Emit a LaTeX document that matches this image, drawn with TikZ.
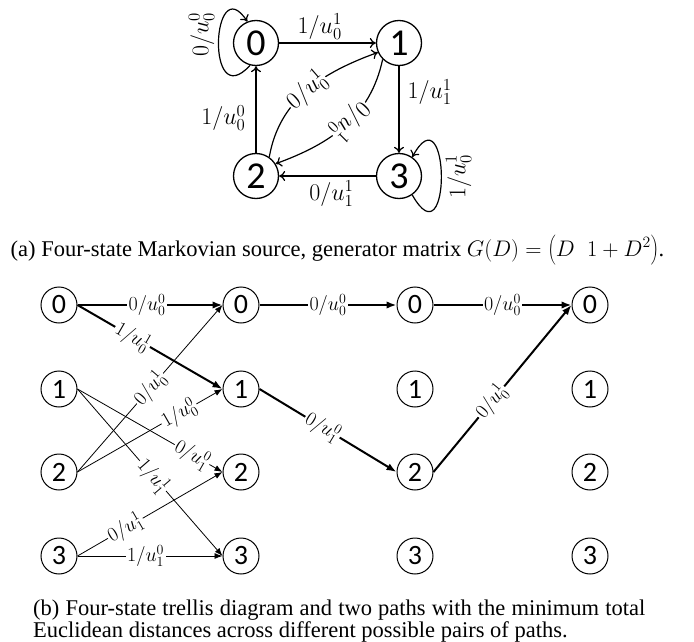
\RequirePackage{fix-cm}
\documentclass[tikz,border=0pt]{standalone}
\usepackage{fontspec}
\setmainfont{Liberation Serif}
\newfontfamily\statefont{Carlito}
\usetikzlibrary{arrows.meta, quotes}

\begin{document}
\begin{tikzpicture}[
    x=1pt, y=-1pt,
    state/.style={circle, draw, line width=1.3pt, minimum size=45pt, inner sep=0pt,
        font=\statefont\fontsize{38}{38}\selectfont},
    tstate/.style={circle, draw, line width=1pt, minimum size=36pt, inner sep=0pt,
        font=\statefont\fontsize{28}{28}\selectfont},
    loopline/.style={draw, line width=1.2pt, -{To[length=6pt,width=10pt]}},
    every edge/.style={loopline},
    every edge quotes/.style={font=\fontsize{24}{26}\selectfont, inner sep=2pt}
]

% fixed bounding box = size of the reference
\path[use as bounding box] (0,0) rectangle (694,642);

% (a) four-state source
\node[state] (n0) at (256,43) {0};
\node[state] (n1) at (399,43) {1};
\node[state] (n2) at (256,176) {2};
\node[state] (n3) at (399,176) {3};

\path (n0) edge["$1/u_0^1$" {above=1pt, pos=.42}] (n1);
\path (n1) edge["$1/u_1^1$" {right=6pt, pos=.3}] (n3);
\path (n3) edge["$0/u_1^1$" {below=2pt, pos=.46}] (n2);
\path (n2) edge["$1/u_0^0$" {left=8pt, pos=.4}] (n0);
\path (n2.55) edge[out=80, in=200, "$0/u_0^1$" {sloped, fill=white, inner sep=1pt}] (n1.204);
\path (n1.225) edge[out=258, in=20, "$0/u_0^1$" {sloped, allow upside down, fill=white, inner sep=1pt, pos=.45}] (n2.32);

\draw[loopline] (n0.255) .. controls (205,115) and (212,-32) .. (n0.112)
    node[pos=.55, rotate=90, anchor=south, inner sep=4pt, font=\fontsize{24}{26}\selectfont] {$0/u_0^0$};
\draw[loopline] (n3.-55) .. controls (452,265) and (450,88) .. (n3.55)
    node[pos=.5, rotate=90, anchor=north, inner sep=4pt, font=\fontsize{24}{26}\selectfont] {$1/u_0^1$};

\node[anchor=base, font=\fontsize{22.5}{26}\selectfont] (capa) at (337.5,256)
    {(a) Four-state Markovian source, generator matrix $G(D) = \left(\rule[-8pt]{0pt}{27pt}D\;\; 1+D^2\right)$.};

% (b) trellis
\begin{scope}[
    every edge/.style={draw, line width=0.8pt, -{Latex[length=8pt,width=6pt]}},
    every edge quotes/.style={font=\fontsize{20}{20}\selectfont, fill=white, inner sep=1.5pt},
    best path/.style={line width=2pt, -{Latex[length=10pt,width=7.5pt]}}
]
\node[tstate] (a0) at (59,305) {0};
\node[tstate] (a1) at (59,389) {1};
\node[tstate] (a2) at (59,472) {2};
\node[tstate] (a3) at (59,556) {3};
\node[tstate] (b0) at (241,305) {0};
\node[tstate] (b1) at (241,389) {1};
\node[tstate] (b2) at (241,472) {2};
\node[tstate] (b3) at (241,556) {3};
\node[tstate] (c0) at (415,305) {0};
\node[tstate] (c1) at (415,389) {1};
\node[tstate] (c2) at (415,472) {2};
\node[tstate] (c3) at (415,556) {3};
\node[tstate] (d0) at (590,305) {0};
\node[tstate] (d1) at (590,389) {1};
\node[tstate] (d2) at (590,472) {2};
\node[tstate] (d3) at (590,556) {3};

% the two paths
\path (a0.east) edge[best path, "$0/u_0^0$" pos=.48] (b0.west);
\path (b0.east) edge[best path, "$0/u_0^0$"] (c0.west);
\path (c0.east) edge[best path, "$0/u_0^0$"] (d0.west);
\path (a0.east) edge[best path, "$1/u_0^1$" {sloped, pos=.38}] (b1.west);
\path (b1.east) edge[best path, "$0/u_1^0$" {sloped, pos=.46}] (c2.west);
\path (c2.east) edge[best path, "$0/u_0^1$" {sloped, pos=.42}] (d0.west);

% other branches
\path (a2.east) edge["$0/u_0^1$" sloped] (b0.west);
\path (a2.east) edge["$1/u_0^0$" {sloped, pos=.7}] (b1.west);
\path (a1.east) edge["$0/u_1^0$" {sloped, pos=.79}] (b2.west);
\path (a1.east) edge["$1/u_1^1$" {sloped, pos=.52}] (b3.west);
\path (a3.east) edge["$0/u_1^1$" {sloped, pos=.33}] (b2.west);
\path (a3.east) edge["$1/u_1^0$" pos=.47] (b3.west);
\end{scope}

\node[anchor=north west, text width=612pt, align=justify, inner sep=0pt,
    font=\fontsize{22.5}{21.5}\selectfont] (capb) at (33,600)
    {(b) Four-state trellis diagram and two paths with the minimum total Euclidean distances across different possible pairs of paths.};

\end{tikzpicture}
\end{document}
